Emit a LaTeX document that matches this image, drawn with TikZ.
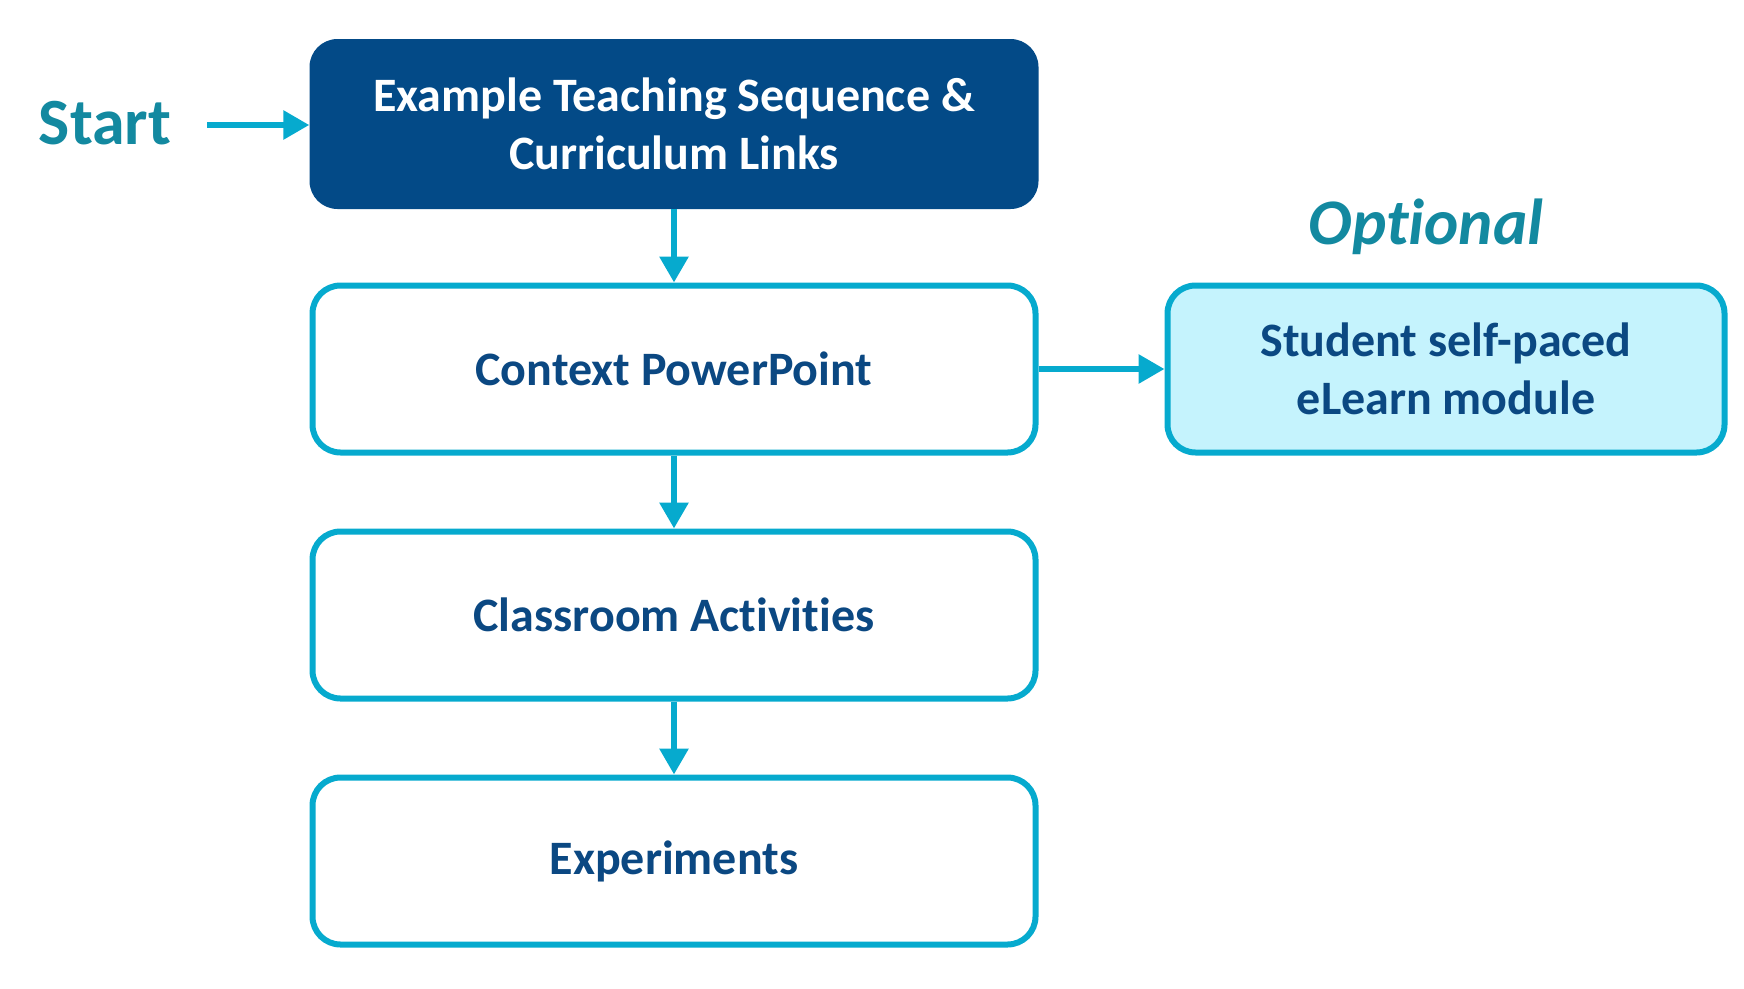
\documentclass[tikz,border=0pt]{standalone}
\usepackage{fontspec}
\setmainfont[Ligatures=NoCommon]{Carlito}
\usetikzlibrary{arrows.meta}
\definecolor{darkbox}{RGB}{3,74,135}
\definecolor{cyanline}{RGB}{6,170,206}
\definecolor{textblue}{RGB}{11,72,130}
\definecolor{tealtxt}{RGB}{19,137,160}
\definecolor{optfill}{RGB}{197,243,253}
\tikzset{
  boxbase/.style={rounded corners=28pt, minimum width=731pt, inner sep=0pt, align=center, font=\fontsize{48}{58}\selectfont\bfseries},
  darkstep/.style={boxbase, fill=darkbox, text=white, minimum height=170pt},
  stepbox/.style={boxbase, draw=cyanline, line width=6pt, fill=white, text=textblue, minimum height=167pt, minimum width=723pt},
  optbox/.style={boxbase, draw=cyanline, line width=6pt, fill=optfill, text=textblue, minimum height=167pt, minimum width=557pt},
  conn/.style={draw=cyanline, line width=6pt, -{Triangle[length=26pt,width=28pt]}},
  biglabel/.style={text=tealtxt, font=\fontsize{66}{80}\selectfont\bfseries, inner sep=0pt}
}
\begin{document}
\begin{tikzpicture}[x=1pt,y=-1pt]
\useasboundingbox (0,0) rectangle (1744,988);
\node[darkstep, minimum width=729pt] (seq) at (674,124) {Example Teaching Sequence \&\\Curriculum Links};
\node[stepbox] (ppt) at (674,369) {Context PowerPoint};
\node[stepbox] (act) at (674,615) {Classroom Activities};
\node[stepbox] (exp) at (674,861) {Experiments};
\node[optbox] (opt) at (1446,369) {Student self-paced\\eLearn module};
\node[biglabel] (start) at (105,123) {Start};
\node[biglabel, font=\fontsize{65}{80}\selectfont\bfseries\itshape] (optl) at (1426,227) {Optional};
\coordinate (s0) at (207,125);
\draw[conn] (s0) -- (seq.west |- s0);
\draw[conn] (seq) -- (ppt);
\draw[conn] (ppt) -- (act);
\draw[conn] (act) -- (exp);
\draw[conn] (ppt) -- (opt);
\end{tikzpicture}
\end{document}
